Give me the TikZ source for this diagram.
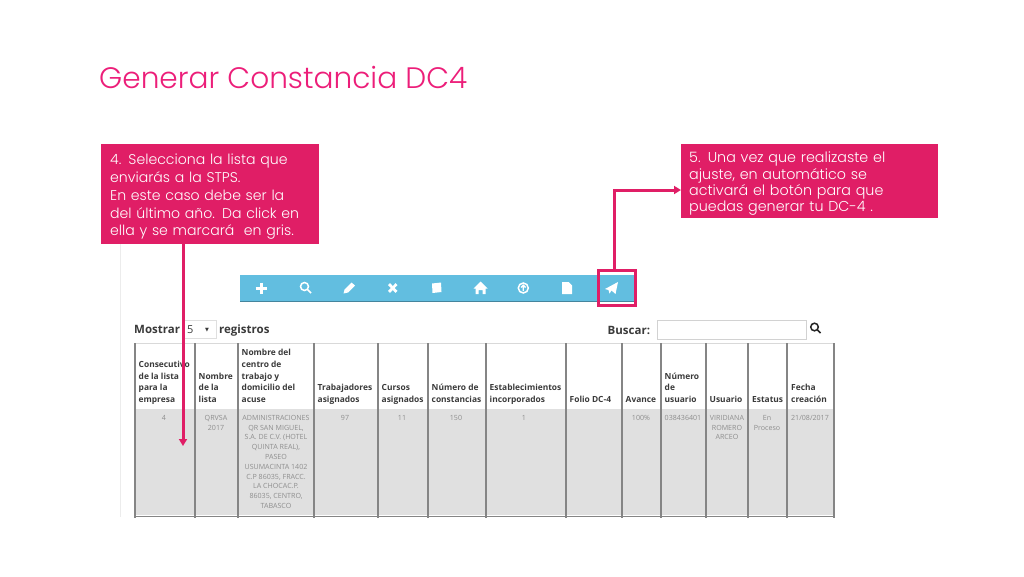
\documentclass[tikz,border=0pt]{standalone}
\usepackage{fontspec}
\setmainfont{Poppins Light}
\newfontfamily\tablefont{Open Sans}
\newfontfamily\symbolfont{DejaVu Sans}
\usetikzlibrary{arrows.meta,positioning}
\definecolor{pinktitle}{HTML}{EC1E79}
\definecolor{pinkbox}{HTML}{E01E66}
\definecolor{barblue}{HTML}{62BEE0}
\definecolor{rowgray}{HTML}{E0E0E0}
\definecolor{linegray}{HTML}{858585}
\definecolor{headtext}{HTML}{3A3A3A}
\definecolor{celltext}{HTML}{8E8E8E}

\begin{document}
\begin{tikzpicture}[
  x=1pt, y=-1pt,
  note/.style={rectangle, fill=pinkbox, text=white, anchor=north west, align=left, font=\fontsize{14.1}{17.8}\selectfont, inner ysep=0pt},
  head/.style={anchor=south west, align=left, inner sep=0pt, text depth=0pt, text=headtext, font=\tablefont\bfseries\fontsize{8.4}{11.7}\selectfont},
  cell/.style={anchor=north, align=center, inner sep=0pt, text=celltext, font=\tablefont\fontsize{7.1}{9.8}\selectfont},
  label/.style={anchor=base west, inner sep=0pt, text=headtext, font=\tablefont\bfseries\fontsize{11.5}{13}\selectfont},
  colline/.style={draw=linegray, line width=1.6pt},
  icon/.style={fill=white, draw=none},
  iconline/.style={draw=white, line width=2.4pt},
  arrow/.style={-{Triangle[length=7pt,width=8pt]}, draw=pinkbox, line width=3pt}
]
\useasboundingbox (0,0) rectangle (1024,576);

% Title
\node[anchor=base west, inner sep=0pt, text=pinktitle, font=\fontsize{29.6}{32}\selectfont] (title) at (99,88) {Generar Constancia DC4};

% Faint margin of the screenshot
\draw[gray!15, line width=0.8pt] (120.5,244) -- (120.5,517);

% Toolbar
\node[rectangle, fill=barblue, anchor=north west, minimum width=394pt, minimum height=26pt, inner sep=0pt] (toolbar) at (240,275) {};
\draw[barblue!70!black, line width=0.6pt] (toolbar.south west) -- (toolbar.south east);
\node[rectangle, draw=pinkbox, line width=3pt, outer sep=0pt, anchor=north west, minimum width=37pt, minimum height=34.5pt, inner sep=0pt] (sendbox) at (598.5,270.5) {};

% Toolbar icons
\draw[iconline, line width=3pt] (255.5,288) -- (267,288) (261.2,282.5) -- (261.2,293.5);
\draw[iconline, line width=1.5pt] (304.5,286.5) circle (4pt) (307.5,289.5) -- (311,293);
\fill[icon] (343.5,293.5) -- (344.5,289.5) -- (351.5,282.5) -- (355,285.5) -- (348,292.5) -- cycle;
\draw[iconline, line width=2.8pt] (389,284.2) -- (396.5,291.8) (396.5,284.2) -- (389,291.8);
\fill[icon] (432,283.5) -- (441,282.5) -- (441.5,292) -- (432.5,293) -- cycle;
\fill[icon] (473.5,288.5) -- (480.5,281.5) -- (487.5,288.5) -- (485.5,288.5) -- (485.5,294) -- (482.5,294) -- (482.5,290) -- (478.5,290) -- (478.5,294) -- (475.5,294) -- (475.5,288.5) -- cycle;
\draw[iconline, line width=1.5pt] (523.3,288) circle (5pt);
\draw[iconline, line width=1.3pt] (523.3,291) -- (523.3,285.5) (521,287.5) -- (523.3,285.2) -- (525.6,287.5);
\fill[icon] (562,282) -- (568.5,282) -- (572,285.5) -- (572,294) -- (562,294) -- cycle;
\fill[icon] (605,289) -- (618,282) -- (615.5,294) -- (611.5,290.5) -- (609.5,293.5) -- (608.5,290) -- cycle;

% Table controls
\node[label] (mostrar) at (134,333) {Mostrar};
\node[rectangle, draw=gray!25, anchor=north west, minimum width=33pt, minimum height=18pt, inner sep=0pt] (selectbox) at (183,320) {};
\node[anchor=base west, inner sep=0pt, text=headtext, font=\tablefont\fontsize{11}{12}\selectfont] (five) at (187,333) {5};
\node[anchor=base, inner sep=0pt, text=headtext, font=\symbolfont\fontsize{5}{6}\selectfont] (caret) at (207,331) {▼};
\node[label] (registros) at (219,333) {registros};
\node[label] (buscar) at (607.5,334) {Buscar:};
\node[rectangle, draw=gray!35, anchor=north west, minimum width=149pt, minimum height=19pt, inner sep=0pt] (searchbox) at (657,320) {};
\draw[draw=black!85, line width=1.5pt] (814.5,327) circle (3.8pt) (817.3,329.8) -- (820.5,333);

% Table background
\fill[rowgray] (135,409) rectangle (834,515);
\draw[gray!30, line width=0.8pt] (135,343) -- (834,343);
\draw[linegray, line width=0.9pt] (135,516.5) -- (834,516.5);

% Column lines
\draw[colline] (135,343) -- (135,518);
\draw[colline] (195,343) -- (195,518);
\draw[colline] (238,343) -- (238,518);
\draw[colline] (313.7,343) -- (313.7,518);
\draw[colline] (377.7,343) -- (377.7,518);
\draw[colline] (428,343) -- (428,518);
\draw[colline] (485.7,343) -- (485.7,518);
\draw[colline] (566,343) -- (566,518);
\draw[colline] (622,343) -- (622,518);
\draw[colline] (661,343) -- (661,518);
\draw[colline] (705.7,343) -- (705.7,518);
\draw[colline] (748,343) -- (748,518);
\draw[colline] (787,343) -- (787,518);
\draw[colline] (833.7,343) -- (833.7,518);

% Header row
\node[head] (h1) at (138.5,402.7) {Consecutivo\\de la lista\\para la\\empresa};
\node[head] (h2) at (198.5,402.7) {Nombre\\de la\\lista};
\node[head] (h3) at (241.5,402.7) {Nombre del\\centro de\\trabajo y\\domicilio del\\acuse};
\node[head] (h4) at (317.5,402.7) {Trabajadores\\asignados};
\node[head] (h5) at (381.5,402.7) {Cursos\\asignados};
\node[head] (h6) at (431.5,402.7) {Número de\\constancias};
\node[head] (h7) at (489.5,402.7) {Establecimientos\\incorporados};
\node[head] (h8) at (569.5,402.7) {Folio DC-4};
\node[head] (h9) at (625.5,402.7) {Avance};
\node[head] (h10) at (664.5,402.7) {Número\\de\\usuario};
\node[head] (h11) at (709.5,402.7) {Usuario};
\node[head] (h12) at (752,402.7) {Estatus};
\node[head] (h13) at (791,402.7) {Fecha\\creación};

% Data row
\node[cell] (c1) at (164,415) {4};
\node[cell] (c2) at (216,415) {QRVSA\\2017};
\node[cell] (c3) at (276,415) {ADMINISTRACIONES\\QR SAN MIGUEL,\\S.A. DE C.V. (HOTEL\\QUINTA REAL),\\PASEO\\USUMACINTA 1402\\C.P 86035, FRACC.\\LA CHOCAC.P.\\86035, CENTRO,\\TABASCO};
\node[cell] (c4) at (345,415) {97};
\node[cell] (c5) at (402,415) {11};
\node[cell] (c6) at (456,415) {150};
\node[cell] (c7) at (524,415) {1};
\node[cell] (c9) at (641,415) {100\%};
\node[cell] (c10) at (683,415) {038436401};
\node[cell] (c11) at (727,415) {VIRIDIANA\\ROMERO\\ARCEO};
\node[cell] (c12) at (767,415) {En\\Proceso};
\node[cell] (c13) at (810,415) {21/08/2017};

% Notes
\node[note, minimum height=100pt, inner xsep=9pt, text width=200pt] (step4) at (101,144) {\rule{0pt}{16pt}4. Selecciona la lista que\\enviarás a la STPS.\\En este caso debe ser la\\del último año. Da click en\\ella y se marcará \ en gris.};
\node[note, minimum height=74pt, inner xsep=8pt, text width=241pt, font=\fontsize{14.3}{16.3}\selectfont] (step5) at (681,144) {\rule{0pt}{16pt}5. Una vez que realizaste el\\ajuste, en automático se\\activará el botón para que\\puedas generar tu DC-4 .};

% Arrows
\coordinate (tip4) at (183,446);
\coordinate (elbow5) at (614,190);
\draw[arrow] (step4.south -| tip4) -- (tip4);
\draw[arrow] (sendbox.north -| elbow5) -- (elbow5) -- (elbow5 -| step5.west);

\end{tikzpicture}
\end{document}
